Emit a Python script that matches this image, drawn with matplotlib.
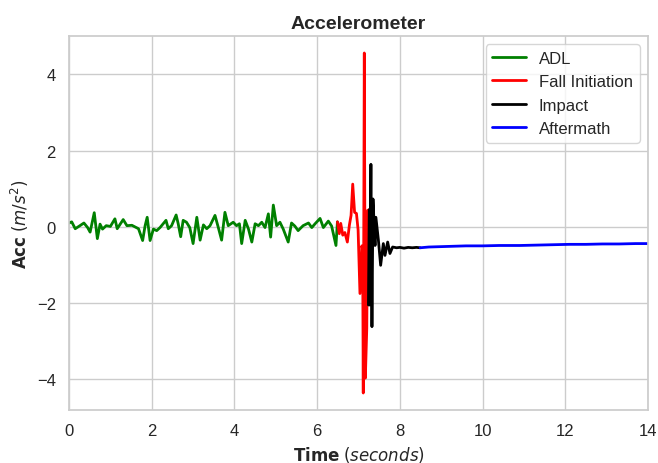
import matplotlib
matplotlib.use("Agg")
import matplotlib.pyplot as plt
import seaborn as sns

# ---- data ----
adl_t = [0.0, 0.065, 0.15, 0.25, 0.36, 0.45, 0.51, 0.61, 0.685, 0.75, 0.81, 0.9, 1.0, 1.11, 1.165,
         1.31, 1.4, 1.52, 1.68, 1.78, 1.84, 1.89, 1.96, 2.04, 2.12, 2.2, 2.345, 2.4, 2.48, 2.59,
         2.64, 2.7, 2.76, 2.84, 2.92, 3.0, 3.09, 3.17, 3.25, 3.33, 3.41, 3.53, 3.61, 3.69, 3.77,
         3.85, 3.97, 4.05, 4.12, 4.175, 4.26, 4.34, 4.42, 4.5, 4.58, 4.66, 4.74, 4.82, 4.875, 4.94,
         5.02, 5.1, 5.18, 5.3, 5.38, 5.46, 5.54, 5.66, 5.79, 5.87, 5.95, 6.07, 6.15, 6.27, 6.35,
         6.455, 6.49]
adl_v = [0.1, 0.13, -0.05, 0.02, 0.1, -0.02, -0.14, 0.37, -0.31, 0.07, -0.06, 0.03, 0.01, 0.21, -0.05,
         0.19, 0.03, 0.04, -0.05, -0.36, 0.03, 0.25, -0.36, -0.06, -0.1, -0.02, 0.17, -0.05, 0.03, 0.31,
         0.08, -0.26, 0.17, 0.12, -0.02, -0.44, 0.25, -0.35, 0.05, -0.05, 0.03, 0.3, -0.02, -0.35, 0.38,
         0.03, 0.12, 0.03, 0.08, -0.44, 0.17, -0.06, -0.4, 0.08, 0.03, 0.12, -0.02, 0.34, -0.27, 0.57,
         0.03, 0.12, -0.06, -0.4, 0.1, 0.02, -0.1, 0.03, 0.1, -0.02, 0.08, 0.22, -0.02, 0.15, 0.02,
         -0.49, 0.13]

fall_t = [6.49, 6.535, 6.57, 6.62, 6.67, 6.73, 6.78, 6.82, 6.86, 6.905, 6.95, 6.99, 7.035, 7.08,
          7.1, 7.115, 7.14, 7.165, 7.2, 7.22, 7.26]
fall_v = [0.13, -0.18, 0.09, -0.22, -0.15, -0.4, 0.05, 0.3, 1.12, 0.38, 0.35, -0.08, -1.75, -0.5,
          -0.6, -4.36, 4.56, -3.97, -2.66, 0.43, 0.45]

impact_t = [7.26, 7.24, 7.27, 7.30, 7.325, 7.35, 7.40, 7.42, 7.48, 7.535, 7.60, 7.64, 7.705, 7.76,
            7.825, 7.92, 8.0, 8.1, 8.2, 8.3, 8.4, 8.49]
impact_v = [0.45, -2.05, -2.05, 1.64, -2.62, 0.73, -0.49, 0.25, -0.34, -1.01, -0.44, -0.75, -0.4, -0.7,
            -0.53, -0.55, -0.54, -0.56, -0.54, -0.55, -0.54, -0.55]

after_t = [8.49, 8.7, 9.0, 9.3, 9.6, 10.0, 10.4, 10.9, 11.3, 11.7, 12.1, 12.5, 12.9, 13.3, 13.7, 14.0]
after_v = [-0.55, -0.53, -0.52, -0.51, -0.5, -0.5, -0.49, -0.49, -0.48, -0.47, -0.46, -0.46, -0.45, -0.45, -0.44, -0.44]

x_ticks = [0, 2, 4, 6, 8, 10, 12, 14]
y_ticks = [-4, -2, 0, 2, 4]

# ---- styling ----
sns.set_theme(style="whitegrid")
plt.rcParams['font.family'] = ['Liberation Sans', 'DejaVu Sans']

fig = plt.figure(figsize=(6.58, 4.64), dpi=100)
ax = fig.add_axes([0.1049, 0.1142, 0.8799, 0.8061])

ax.plot(adl_t, adl_v, color='green', lw=2, label='ADL')
ax.plot(fall_t, fall_v, color='red', lw=2, label='Fall Initiation')
ax.plot(impact_t, impact_v, color='black', lw=2, label='Impact')
ax.plot(after_t, after_v, color='blue', lw=2, label='Aftermath')

ax.set_xlim(0, 14)
ax.set_xticks(x_ticks)
ax.set_yticks(y_ticks)
ax.tick_params(labelsize=12)
ax.set_title('Accelerometer', fontsize=14, fontweight='bold')
ax.set_xlabel(r'$\bf{Time}$ $(seconds)$', fontsize=12)
ax.set_ylabel(r'$\bf{Acc}$ $(m/s^2)$', fontsize=12)
ax.legend(loc='upper right', fontsize=12)

fig.savefig('out.png', dpi=100)
